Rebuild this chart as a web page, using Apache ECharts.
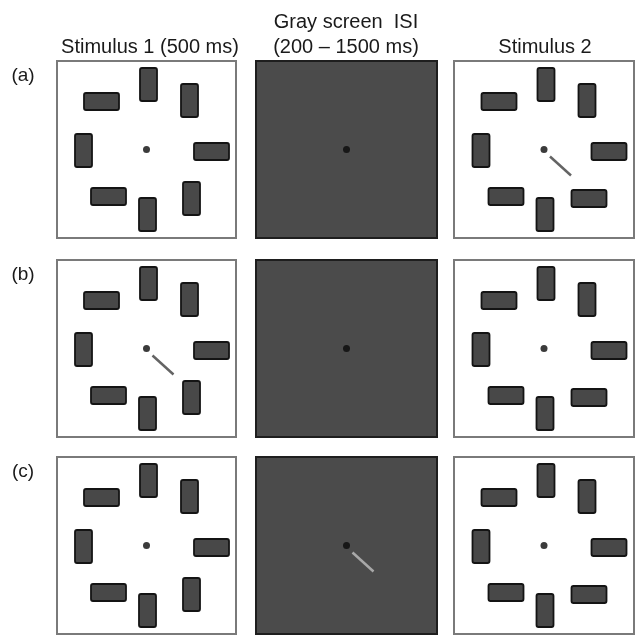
<!DOCTYPE html>
<html>
<head>
<meta charset="utf-8">
<script src="https://cdn.jsdelivr.net/npm/echarts@6/dist/echarts.min.js"></script>
<style>
html,body{margin:0;padding:0;background:#fff;}
#chart{width:641px;height:635px;}
</style>
</head>
<body>
<div id="chart"></div>
<script>
// ---- data ----
const columnTitles = ['Stimulus 1 (500 ms)', 'Gray screen  ISI\n(200 – 1500 ms)', 'Stimulus 2'];
const rowLabels = ['(a)', '(b)', '(c)'];
// item positions relative to fixation (display units, y up)
const itemX = [2, -45, 43, -63, 65, -38, 1, 45];
const itemY = [65, 48, 49, -1, -2, -47, -65, -49];
// orientation of each item: 1 = vertical, 0 = horizontal
const orientStim1 = [1, 0, 1, 1, 0, 0, 1, 1];
const orientStim2 = [1, 0, 1, 1, 0, 0, 1, 0];
// cue line (points toward the changing item)
const cueX = [6, 27];
const cueY = [-7, -26];
// which column shows the cue in each row: 0 = Stimulus 1, 1 = ISI, 2 = Stimulus 2
const cueColumn = [2, 0, 1];

// ---- layout ----
const colLeft = [57, 256, 454];
const colWidth = [179, 181, 180];
const rowTop = [61, 260, 457];
const rowHeight = 177;
const FONT = '"Liberation Sans", Arial, Helvetica, sans-serif';

const grids = [], xAxes = [], yAxes = [], series = [];
let gi = 0;
for (let r = 0; r < 3; r++) {
  for (let c = 0; c < 3; c++) {
    const dark = c === 1;
    grids.push({
      left: colLeft[c], top: rowTop[r], width: colWidth[c], height: rowHeight,
      show: true,
      backgroundColor: dark ? '#4b4b4b' : '#ffffff',
      borderColor: dark ? '#1e1e1e' : '#7a7a7a',
      borderWidth: 2
    });
    const hw = colWidth[c] / 2, hh = rowHeight / 2;
    xAxes.push({ type: 'value', gridIndex: gi, min: -hw, max: hw, show: false });
    yAxes.push({ type: 'value', gridIndex: gi, min: -hh, max: hh, show: false });
    if (!dark) {
      const orient = c === 0 ? orientStim1 : orientStim2;
      series.push({
        type: 'custom', xAxisIndex: gi, yAxisIndex: gi, silent: true,
        data: itemX.map((x, i) => [x, itemY[i], orient[i]]),
        renderItem: function (params, api) {
          const p = api.coord([api.value(0), api.value(1)]);
          const v = api.value(2) === 1;
          const s = api.size([v ? 17 : 35, v ? 33 : 17]);
          return {
            type: 'rect',
            shape: { x: p[0] - s[0] / 2, y: p[1] - s[1] / 2, width: s[0], height: s[1], r: 2 },
            style: { fill: '#484848', stroke: '#141414', lineWidth: 1.8 }
          };
        }
      });
    }
    if (cueColumn[r] === c) {
      series.push({
        type: 'line', xAxisIndex: gi, yAxisIndex: gi, silent: true,
        data: [[cueX[0], cueY[0]], [cueX[1], cueY[1]]],
        showSymbol: false,
        lineStyle: { color: dark ? '#a8a8a8' : '#646464', width: 2.5 }
      });
    }
    series.push({
      type: 'scatter', xAxisIndex: gi, yAxisIndex: gi, silent: true,
      data: [[0, 0]], symbolSize: 7,
      itemStyle: { color: '#0a0a0a' }
    });
    gi++;
  }
}

const colCenter = [150, 346, 545];
const graphics = [];
for (let c = 0; c < 3; c++) {
  const lines = columnTitles[c].split('\n');
  lines.forEach((t, k) => {
    graphics.push({
      type: 'text', x: colCenter[c], y: 47 - (lines.length - 1 - k) * 25,
      style: { text: t, fill: '#1a1a1a', font: '20px ' + FONT, textAlign: 'center', textVerticalAlign: 'middle' }
    });
  });
}
for (let r = 0; r < 3; r++) {
  graphics.push({
    type: 'text', x: 23, y: rowTop[r] + 15,
    style: { text: rowLabels[r], fill: '#1a1a1a', font: '19px ' + FONT, textAlign: 'center', textVerticalAlign: 'middle' }
  });
}

const chart = echarts.init(document.getElementById('chart'), null, { renderer: 'canvas' });
chart.setOption({
  animation: false,
  backgroundColor: '#ffffff',
  grid: grids,
  xAxis: xAxes,
  yAxis: yAxes,
  series: series,
  graphic: graphics
});
</script>
</body>
</html>
